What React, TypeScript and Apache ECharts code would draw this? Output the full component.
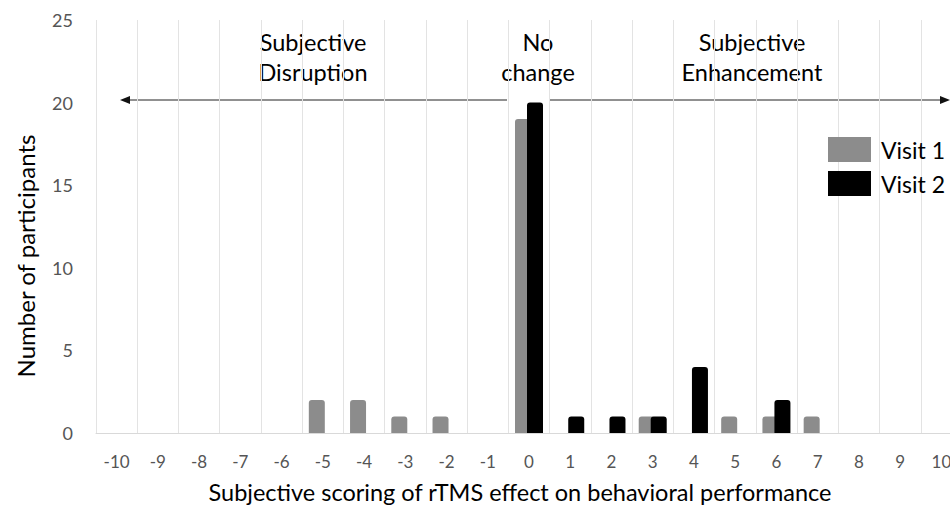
import React, { useEffect, useRef } from "react";
import * as echarts from "echarts";

const categories = ["-10","-9","-8","-7","-6","-5","-4","-3","-2","-1","0","1","2","3","4","5","6","7","8","9","10"];
const visit1 = [0,0,0,0,0,2,2,1,1,0,19,0,0,1,0,1,1,1,0,0,0];
const visit2 = [0,0,0,0,0,0,0,0,0,0,20,1,1,1,4,0,2,0,0,0,0];
const seriesNames = ["Visit 1", "Visit 2"];
const yAxisTitle = "Number of participants";
const xAxisTitle = "Subjective scoring of rTMS effect on behavioral performance";
const FONT = "Lato, 'Open Sans', sans-serif";
const TXT = "#000";

export default function App() {
  const ref = useRef<HTMLDivElement>(null);
  useEffect(() => {
    if (!ref.current) return;
    const chart = echarts.init(ref.current, undefined, { renderer: "svg" });
    const toData = (arr: number[]) => arr.map((v) => (v === 0 ? null : v));
    chart.setOption({
      animation: false,
      textStyle: { fontFamily: FONT },
      grid: { left: 96, width: 866, top: 20, bottom: 73, outerBoundsMode: "none", containLabel: false },
      legend: {
        orient: "vertical",
        left: 823,
        top: 132,
        itemWidth: 43,
        itemHeight: 25,
        itemGap: 9,
        icon: "rect",
        textStyle: { fontSize: 23, color: TXT, fontFamily: FONT, padding: [0, 0, 0, 5] },
        data: seriesNames,
      },
      xAxis: {
        type: "category",
        data: categories,
        axisLine: { show: true, lineStyle: { color: "#d9d9d9" } },
        axisTick: { show: false },
        splitLine: { show: true, interval: 0, lineStyle: { color: "#e3e3e3" } },
        axisLabel: { color: "#555", fontSize: 17, margin: 20, interval: 0, fontFamily: FONT },
        name: xAxisTitle,
        nameLocation: "middle",
        nameGap: 47,
        nameTextStyle: { fontSize: 23.5, color: TXT, fontFamily: FONT, padding: [0, 18, 0, 0] },
      },
      yAxis: {
        type: "value",
        min: 0,
        max: 25,
        interval: 5,
        axisLine: { show: false },
        axisTick: { show: false },
        splitLine: { show: false },
        axisLabel: { color: "#555", fontSize: 18, margin: 23, fontFamily: FONT },
      },
      series: [
        {
          name: seriesNames[0],
          type: "bar",
          data: toData(visit1),
          barWidth: 16,
          barGap: "-25%",
          itemStyle: { color: "#8c8c8c", borderRadius: [3, 3, 0, 0] },
        },
        {
          name: seriesNames[1],
          type: "bar",
          data: toData(visit2),
          barWidth: 16,
          itemStyle: { color: "#000000", borderRadius: [3, 3, 0, 0] },
        },
      ],
      graphic: [
        { type: "text", x: 25, y: 256, rotation: Math.PI / 2, style: { text: yAxisTitle, align: "center", verticalAlign: "middle", fontSize: 24, fill: TXT, fontFamily: FONT } },
        { type: "line", shape: { x1: 124, y1: 100, x2: 507, y2: 100 }, style: { stroke: "#222", lineWidth: 1 } },
        { type: "polygon", shape: { points: [[120, 100], [130, 96], [130, 104]] }, style: { fill: "#111" } },
        { type: "line", shape: { x1: 550, y1: 100, x2: 944, y2: 100 }, style: { stroke: "#222", lineWidth: 1 } },
        { type: "polygon", shape: { points: [[950, 100], [940, 96], [940, 104]] }, style: { fill: "#111" } },
        { type: "text", x: 313, y: 57, style: { text: "Subjective\nDisruption", align: "center", verticalAlign: "middle", fontSize: 23.5, lineHeight: 30, fill: TXT, fontFamily: FONT } },
        { type: "text", x: 538, y: 57, style: { text: "No\nchange", align: "center", verticalAlign: "middle", fontSize: 23.5, lineHeight: 30, fill: TXT, fontFamily: FONT } },
        { type: "text", x: 752, y: 57, style: { text: "Subjective\nEnhancement", align: "center", verticalAlign: "middle", fontSize: 23.5, lineHeight: 30, fill: TXT, fontFamily: FONT } },
      ],
    });
    return () => chart.dispose();
  }, []);
  return <div ref={ref} style={{ width: 950, height: 506, position: "absolute", left: 0, top: 0 }} />;
}
